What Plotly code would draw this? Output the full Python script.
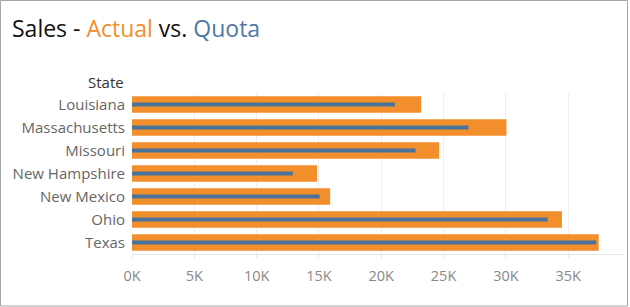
import plotly.graph_objects as go

states = ["Louisiana", "Massachusetts", "Missouri", "New Hampshire", "New Mexico", "Ohio", "Texas"]
actual = [23200, 30050, 24650, 14850, 15900, 34500, 37450]
quota = [21100, 27000, 22750, 12900, 15050, 33350, 37250]
tick_vals = [0, 5000, 10000, 15000, 20000, 25000, 30000, 35000]
tick_text = ["0K", "5K", "10K", "15K", "20K", "25K", "30K", "35K"]

ORANGE = "#F28E2B"
BLUE = "#4E79A7"
FONT = "Open Sans"

W, H = 630, 307
L, R, T, B = 132, 7, 93, 53
pw, ph = W - L - R, H - T - B

def px(x):
    return (x - L) / pw

def py(y):
    return (H - B - y) / ph

fig = go.Figure()
fig.add_trace(go.Bar(y=states, x=actual, orientation="h", marker=dict(color=ORANGE, line=dict(width=0)),
                     width=0.72, name="Actual", hoverinfo="x+y"))
fig.add_trace(go.Bar(y=states, x=quota, orientation="h", marker=dict(color="#4A7399", line=dict(width=0)),
                     width=0.17, name="Quota", hoverinfo="x+y"))

fig.update_layout(
    width=W, height=H,
    margin=dict(l=L, r=R, t=T, b=B),
    barmode="overlay",
    showlegend=False,
    plot_bgcolor="white",
    paper_bgcolor="white",
    font=dict(family=FONT, size=15, color="#666666"),
    xaxis=dict(range=[0, 39400], tickvals=tick_vals, ticktext=tick_text,
               showgrid=True, gridcolor="#EFEFEF", gridwidth=1, zeroline=False,
               showline=True, linecolor="#E6E6E6", linewidth=1,
               ticks="outside", ticklen=3, tickcolor="#E6E6E6", ticklabelstandoff=6,
               tickfont=dict(family=FONT, size=14.5, color="#888888"), fixedrange=True),
    yaxis=dict(autorange="reversed", showgrid=False, zeroline=False, showline=False,
               ticks="", ticklabelstandoff=6,
               tickfont=dict(family=FONT, size=15, color="#666666"), fixedrange=True),
    annotations=[
        dict(text="Sales - <span style='color:#F28E2B'>Actual</span> vs. <span style='color:#4E79A7'>Quota</span>",
             xref="paper", yref="paper", x=px(10), y=py(28), xanchor="left", yanchor="middle",
             showarrow=False, font=dict(family=FONT, size=23, color="#111111")),
        dict(text="State", xref="paper", yref="paper", x=px(126), y=py(82),
             xanchor="right", yanchor="middle", showarrow=False,
             font=dict(family=FONT, size=15, color="#333333")),
    ],
    shapes=[
        dict(type="rect", xref="paper", yref="paper", x0=px(0.5), x1=px(627.5), y0=py(306), y1=py(0.5),
             line=dict(color="#A6A6A6", width=1), fillcolor="rgba(0,0,0,0)", layer="above"),
    ],
)

fig.write_html("out.html")
